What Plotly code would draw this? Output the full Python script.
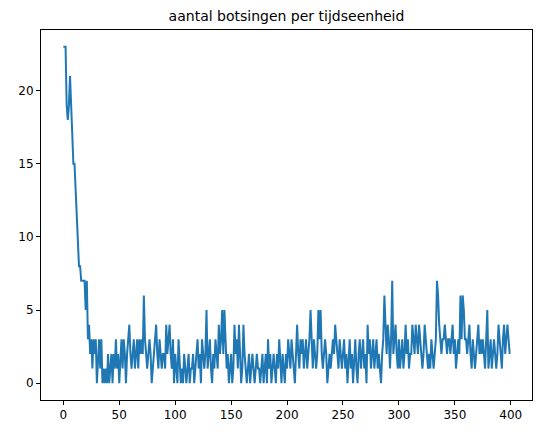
import numpy as np
import plotly.graph_objects as go

# aantal botsingen per tijdstap
botsingen = [
    23, 23, 23, 19, 18, 19, 21, 19, 17, 15, 15, 13, 12, 10, 8, 8, 7, 7, 7, 7,
    5, 7, 3, 4, 2, 3, 1, 3, 2, 3, 0, 2, 3, 1, 3, 0, 1, 0, 1, 0,
    2, 0, 1, 2, 0, 2, 1, 3, 1, 2, 0, 2, 3, 1, 3, 2, 0, 2, 3, 4,
    2, 1, 2, 3, 1, 2, 3, 1, 3, 2, 3, 2, 6, 3, 2, 1, 2, 3, 2, 0,
    1, 2, 3, 4, 2, 1, 3, 2, 1, 2, 2, 1, 4, 2, 3, 4, 2, 1, 3, 0,
    2, 1, 0, 3, 1, 0, 1, 0, 2, 1, 0, 1, 2, 0, 1, 1, 2, 0, 1, 2,
    3, 1, 2, 0, 3, 2, 1, 2, 5, 1, 2, 3, 1, 0, 2, 1, 3, 2, 1, 4,
    2, 3, 5, 2, 5, 3, 1, 2, 0, 1, 2, 0, 1, 4, 2, 3, 1, 4, 2, 0,
    1, 4, 2, 1, 0, 1, 2, 0, 1, 2, 1, 0, 1, 2, 1, 1, 0, 1, 2, 0,
    1, 2, 0, 3, 1, 2, 0, 1, 2, 1, 0, 2, 1, 3, 1, 0, 2, 1, 0, 2,
    1, 3, 2, 1, 3, 2, 1, 0, 2, 4, 2, 1, 3, 2, 3, 1, 2, 3, 1, 2,
    3, 5, 2, 1, 3, 2, 1, 2, 5, 3, 5, 2, 1, 2, 3, 2, 0, 1, 2, 1,
    2, 3, 2, 4, 3, 2, 1, 3, 2, 1, 2, 3, 1, 2, 0, 2, 3, 1, 2, 0,
    2, 3, 1, 0, 2, 3, 1, 2, 3, 1, 2, 0, 4, 2, 3, 1, 2, 3, 1, 2,
    3, 1, 2, 1, 0, 2, 3, 6, 3, 2, 4, 3, 1, 3, 7, 2, 3, 4, 2, 1,
    3, 1, 2, 3, 1, 2, 4, 2, 3, 1, 2, 2, 4, 3, 2, 4, 3, 2, 4, 3,
    2, 1, 2, 4, 3, 2, 1, 2, 1, 3, 2, 1, 2, 3, 7, 6, 4, 3, 2, 3,
    3, 4, 3, 2, 3, 3, 2, 3, 4, 2, 3, 1, 2, 3, 2, 6, 3, 6, 5, 3,
    3, 2, 3, 4, 2, 1, 3, 2, 1, 2, 3, 4, 2, 3, 2, 3, 2, 1, 3, 5,
    1, 2, 3, 1, 2, 3, 2, 1, 2, 4, 3, 2, 1, 3, 4, 2, 3, 4, 3, 2,
]
tijd = np.arange(len(botsingen))

fig = go.Figure(go.Scatter(x=tijd, y=botsingen, mode="lines",
                           line=dict(color="#1f77b4", width=2)))

n = len(botsingen) - 1
ymax = max(botsingen)
axis_style = dict(showgrid=False, zeroline=False, showline=True, linecolor="black",
                  linewidth=1, mirror=True, ticks="outside", ticklen=4,
                  tickcolor="black", tickfont=dict(size=12, color="black"),
                  automargin=False)

# de pagina heeft 8px body-marge, daarom zijn l/t kleiner en r/b groter
fig.update_layout(
    width=543, height=435,
    margin=dict(l=33, r=19, t=22, b=43),
    plot_bgcolor="white", paper_bgcolor="white",
    font=dict(family="DejaVu Sans", color="black"),
    title=dict(text="aantal botsingen per tijdseenheid", xref="paper", x=0.5,
               xanchor="center", yref="container", y=0.993, yanchor="top",
               pad=dict(t=0), font=dict(size=14)),
    showlegend=False,
)
fig.update_xaxes(range=[-0.05 * n, 1.05 * n], tickvals=list(range(0, 401, 50)), **axis_style)
fig.update_yaxes(range=[-0.05 * ymax, 1.05 * ymax], tickvals=[0, 5, 10, 15, 20], **axis_style)

fig.write_html("out.html")
